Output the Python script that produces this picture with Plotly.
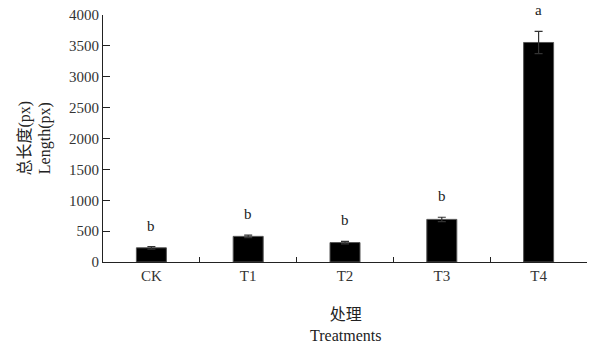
import plotly.graph_objects as go

# Treatment groups and measured total root length (px)
treatments = ["CK", "T1", "T2", "T3", "T4"]
length_mean = [230, 415, 315, 690, 3555]
length_err = [20, 20, 20, 35, 180]
sig_letters = ["b", "b", "b", "b", "a"]
y_ticks = [0, 500, 1000, 1500, 2000, 2500, 3000, 3500, 4000]

serif = "Liberation Serif, Noto Sans CJK SC, serif"

fig = go.Figure()
fig.add_trace(go.Bar(
    x=treatments,
    y=length_mean,
    marker=dict(color="black", line=dict(color="#555555", width=1)),
    error_y=dict(type="data", array=length_err, visible=True,
                 color="#333333", thickness=1.2, width=4),
    showlegend=False,
))

# Significance letters above each error bar
for t, m, e, s in zip(treatments, length_mean, length_err, sig_letters):
    fig.add_annotation(x=t, y=m + e, text=s, showarrow=False,
                       yanchor="bottom", yshift=11,
                       font=dict(family=serif, size=15, color="#222222"))

# Axis titles (Chinese + English, two lines)
fig.add_annotation(xref="paper", yref="paper", x=0, y=0.5,
                   xanchor="center", yanchor="middle", xshift=-68,
                   text="总长度(px)<br>Length(px)", textangle=-90,
                   showarrow=False,
                   font=dict(family=serif, size=16, color="#222222"))
fig.add_annotation(xref="paper", yref="paper", x=0.5, y=0,
                   xanchor="center", yanchor="middle", yshift=-63,
                   text="处理<br>Treatments", showarrow=False,
                   font=dict(family=serif, size=16, color="#222222"))

fig.update_layout(
    width=590, height=345,
    margin=dict(l=103, r=3, t=15, b=83),
    paper_bgcolor="white", plot_bgcolor="white",
    bargap=0.69,
    font=dict(family=serif, size=15, color="#333333"),
)
fig.update_xaxes(
    showline=True, linecolor="#222222", linewidth=1,
    ticks="inside", tickson="boundaries", ticklen=5,
    tickcolor="#222222", showgrid=False,
)
fig.update_yaxes(
    range=[0, 4000], tickvals=y_ticks,
    showline=True, linecolor="#222222", linewidth=1,
    ticks="inside", ticklen=7, tickcolor="#222222",
    showgrid=False, zeroline=False,
)

fig.write_html("out.html")
